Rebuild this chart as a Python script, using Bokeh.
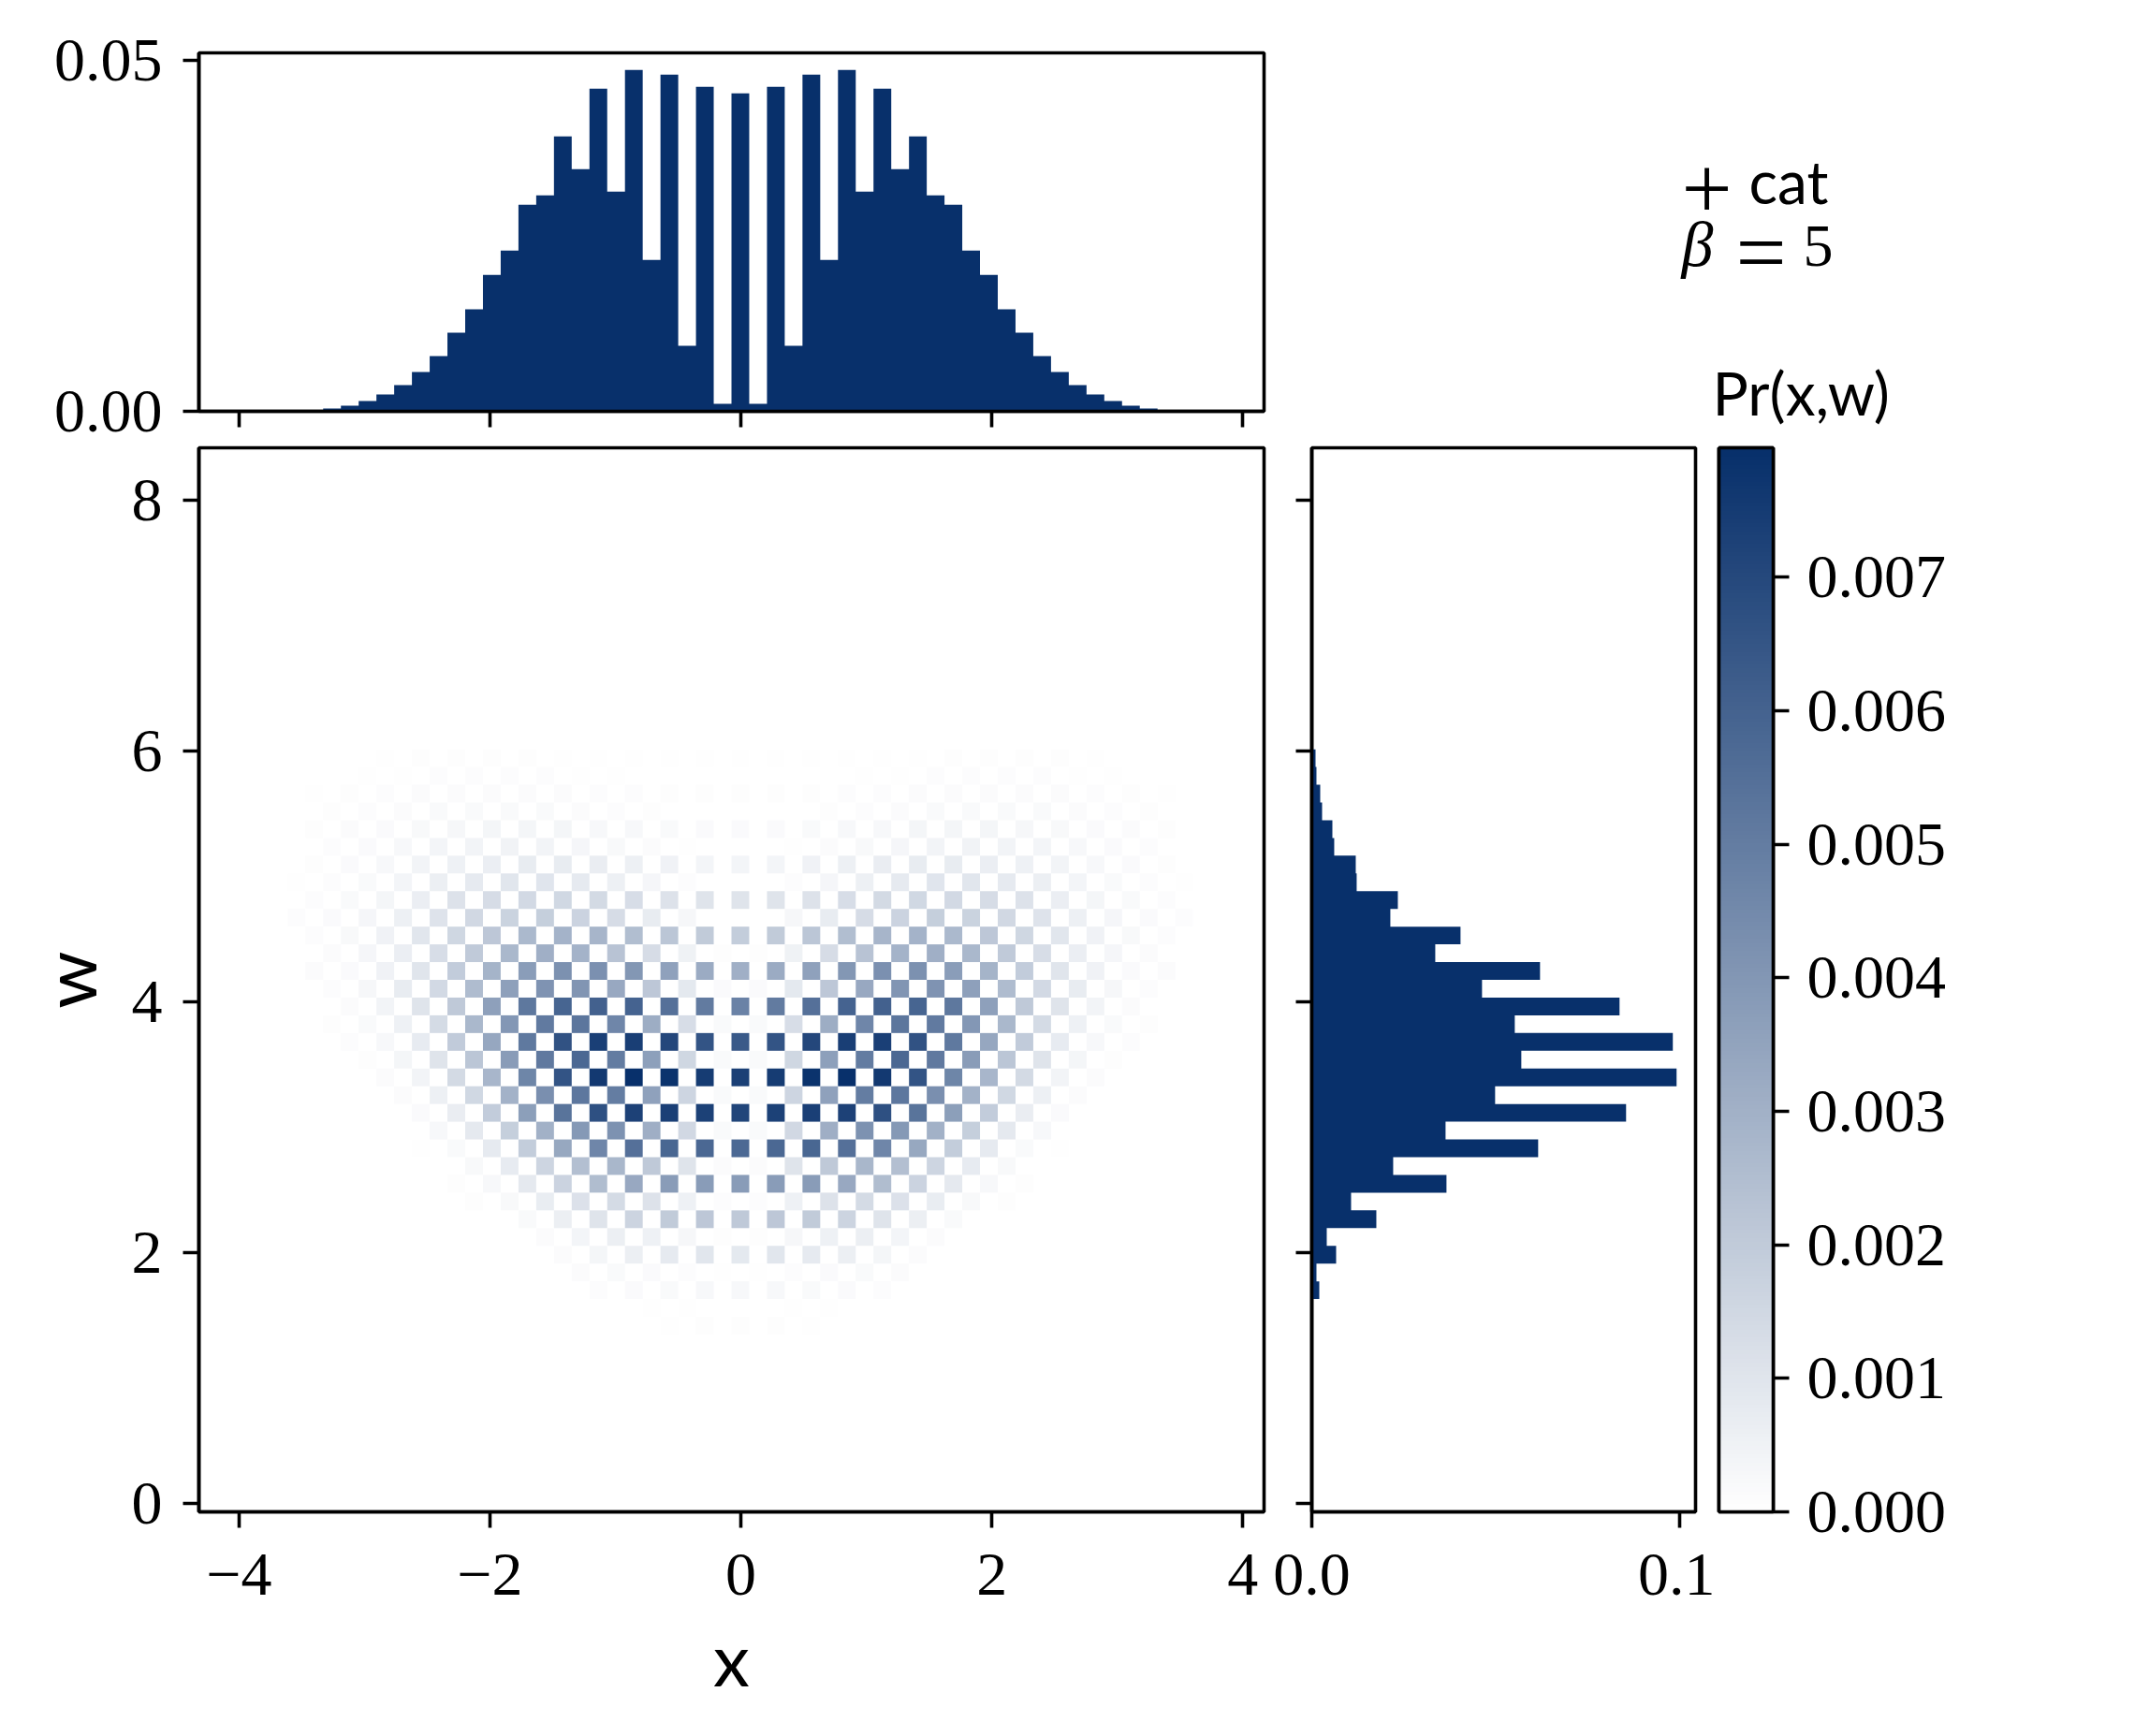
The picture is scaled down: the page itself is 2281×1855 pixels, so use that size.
import numpy as np
from bokeh.core.properties import value
from bokeh.embed import file_html
from bokeh.layouts import column, row
from bokeh.models import ColumnDataSource, FixedTicker, LinearAxis, LinearColorMapper, Range1d
from bokeh.plotting import figure
from bokeh.resources import INLINE

# binning of the joint histogram
n_bins = 60
x_min, x_max = -4.32, 4.17
w_min, w_max = -0.07, 8.42
bin_w = (x_max - x_min) / n_bins
pr_max = 0.00797

# marginal Pr(x), bins k = -23 .. 0, mirrored for k > 0
top_k_first = -23
top_left = [0.0004, 0.0008, 0.00146, 0.0024, 0.00373, 0.00559, 0.00785, 0.01118, 0.0145, 0.01942,
            0.02288, 0.0294, 0.03073, 0.03911, 0.03446, 0.0459, 0.03127, 0.04856, 0.02155, 0.0479,
            0.00931, 0.04617, 0.00106]
top_center = 0.04523

# marginal Pr(w), bins i = 12 .. 42
right_i_first = 12
right_values = [0.00204, 0.00127, 0.00662, 0.00407, 0.01756, 0.01069, 0.03664, 0.02214, 0.06158, 0.03639,
                0.0855, 0.04987, 0.09924, 0.057, 0.09822, 0.05522, 0.08372, 0.04631, 0.06209, 0.03359,
                0.04046, 0.02137, 0.02341, 0.01221, 0.01196, 0.0061, 0.0056, 0.0028, 0.00229, 0.00127,
                0.00102]

# joint Pr(x,w): one list per w bin, counted in steps of pr_max / 247.
# Even rows hold k = 0, 2, 4 ...; odd rows hold k = 1, 3, 5 ...; mirrored for k < 0
row_42 = [1, 1, 1, 1, 1, 1, 2, 2, 2, 2, 1]
row_41 = [0, 0, 0, 1, 1, 3, 3, 3, 3, 1, 1]
row_40 = [2, 2, 2, 3, 3, 4, 4, 4, 4, 4, 3, 2, 1]
row_39 = [0, 0, 2, 3, 4, 6, 6, 6, 6, 4, 3, 2]
row_38 = [5, 5, 6, 8, 8, 11, 11, 11, 9, 7, 5, 4, 2]
row_37 = [0, 1, 4, 7, 10, 13, 14, 13, 12, 8, 5, 3]
row_36 = [12, 12, 15, 18, 21, 23, 23, 20, 17, 13, 8, 5, 2]
row_35 = [0, 3, 10, 18, 25, 30, 29, 25, 19, 12, 6, 3, 1]
row_34 = [32, 32, 34, 40, 44, 47, 45, 41, 34, 20, 11, 6, 3]
row_33 = [0, 9, 23, 41, 52, 57, 53, 46, 33, 18, 10, 5, 3]
row_32 = [59, 62, 68, 78, 87, 90, 83, 66, 48, 29, 15, 7, 3]
row_31 = [2, 16, 41, 71, 90, 95, 84, 63, 40, 20, 10, 4]
row_30 = [95, 100, 111, 124, 132, 131, 116, 89, 60, 31, 15, 5, 4]
row_29 = [5, 27, 66, 103, 126, 128, 112, 80, 45, 23, 9, 3]
row_28 = [148, 157, 169, 185, 188, 183, 161, 112, 64, 32, 13, 4]
row_27 = [6, 40, 98, 143, 163, 158, 123, 84, 43, 17, 6, 2]
row_26 = [196, 203, 219, 229, 228, 205, 160, 105, 61, 24, 8, 3]
row_25 = [6, 48, 113, 156, 179, 159, 117, 68, 32, 11, 2]
row_24 = [227, 232, 243, 247, 235, 203, 144, 86, 44, 13, 4]
row_23 = [6, 50, 111, 154, 162, 133, 91, 47, 18, 4]
row_22 = [221, 226, 228, 225, 208, 165, 114, 60, 21, 5]
row_21 = [6, 46, 96, 130, 121, 93, 57, 26, 8]
row_20 = [178, 179, 181, 169, 143, 104, 59, 25, 6, 1]
row_19 = [4, 32, 64, 85, 76, 50, 24, 7]
row_18 = [117, 117, 117, 103, 79, 52, 26, 8, 2]
row_17 = [3, 17, 34, 43, 35, 22, 7, 2]
row_16 = [64, 66, 62, 51, 32, 19, 6]
row_15 = [2, 9, 17, 19, 12, 4]
row_14 = [27, 29, 25, 19, 11, 4]
row_13 = [1, 3, 5, 6, 4]
row_12 = [8, 8, 6, 5, 3]
row_11 = [0, 1, 1]
row_10 = [2, 2, 1]
joint_rows = {42: row_42, 41: row_41, 40: row_40, 39: row_39, 38: row_38, 37: row_37, 36: row_36,
              35: row_35, 34: row_34, 33: row_33, 32: row_32, 31: row_31, 30: row_30, 29: row_29,
              28: row_28, 27: row_27, 26: row_26, 25: row_25, 24: row_24, 23: row_23, 22: row_22,
              21: row_21, 20: row_20, 19: row_19, 18: row_18, 17: row_17, 16: row_16, 15: row_15,
              14: row_14, 13: row_13, 12: row_12, 11: row_11, 10: row_10}

# ticks
x_ticks = [-4, -2, 0, 2, 4]
x_labels = {-4: "\u22124", -2: "\u22122", 0: "0", 2: "2", 4: "4"}
w_ticks = [0, 2, 4, 6, 8]
w_labels = {0: "0", 2: "2", 4: "4", 6: "6", 8: "8"}
top_ticks = [0, 0.05]
top_labels = {0: "0.00", 0.05: "0.05"}
right_ticks = [0, 0.1]
right_labels = {0: "0.0", 0.1: "0.1"}
cb_ticks = [0, 0.001, 0.002, 0.003, 0.004, 0.005, 0.006, 0.007]
cb_labels = {t: f"{t:.3f}" for t in cb_ticks}

NAVY = "#08306b"
SERIF = "Liberation Serif"
SANS = "Lato"
TICK_SIZE = "66px"
LABEL_SIZE = "78px"
LW = 3.6

palette = [f"#{int(255 + (8 - 255) * t):02x}{int(255 + (48 - 255) * t):02x}{int(255 + (107 - 255) * t):02x}"
           for t in np.linspace(0, 1, 256)]
mapper = LinearColorMapper(palette=palette, low=0, high=pr_max)


def style_axis(ax, standoff=22):
    ax.axis_line_width = LW
    ax.major_tick_line_width = LW
    ax.major_tick_in = 0
    ax.major_tick_out = 17
    ax.minor_tick_line_color = None
    ax.major_label_text_font = SERIF
    ax.major_label_text_font_size = TICK_SIZE
    ax.major_label_text_color = "black"
    ax.major_label_standoff = standoff


def make_fig(x_range, y_range, w, h, left=4, right=4, top=4, bottom=4, **kw):
    f = figure(x_range=x_range, y_range=y_range, frame_width=w, frame_height=h, min_border_left=left,
               min_border_right=right, min_border_top=top, min_border_bottom=bottom,
               toolbar_location=None, output_backend="svg", **kw)
    f.grid.visible = False
    f.outline_line_color = "black"
    f.outline_line_width = LW
    f.outline_line_alpha = 1
    for ax in f.axis:
        style_axis(ax)
    return f


def set_ticks(ax, ticks, labels=None):
    ax.ticker = FixedTicker(ticks=ticks)
    ax.major_label_overrides = labels if labels is not None else {t: "" for t in ticks}


# top marginal
top_values = top_left + [top_center] + top_left[::-1] + [0]
top_edges = [x_min + (k + n_bins // 2 + top_k_first) * bin_w for k in range(len(top_values))]
top = make_fig(Range1d(x_min, x_max), Range1d(0, 0.051), 1138, 383, left=212, top=56, bottom=35)
top.varea_step(x=top_edges, y1=[0] * len(top_values), y2=top_values, step_mode="after", fill_color=NAVY)
set_ticks(top.xaxis[0], x_ticks)
set_ticks(top.yaxis[0], top_ticks, top_labels)

# texts beside the top panel, on a blank figure counted in picture pixels
note = figure(x_range=Range1d(1354, 2268), y_range=Range1d(474, 0), width=914, height=474,
              min_border_left=0, min_border_right=0, min_border_top=0, min_border_bottom=0,
              toolbar_location=None, output_backend="svg", outline_line_color=None,
              x_axis_location=None, y_axis_location=None)
note.grid.visible = False
note_texts = ["+", "cat", "\u03b2", "=", "5", "Pr(x,w)"]
note_x = [1796, 1868, 1796, 1854, 1926, 1829]
note_y = [201, 193, 260, 269, 262, 419]
note_fonts = [SERIF, SANS, SERIF, SERIF, SERIF, SANS]
note_sizes = ["96px", "64px", "68px", "96px", "64px", "64px"]
note_styles = ["normal", "normal", "italic", "normal", "normal", "normal"]
for txt, nx, ny, font, size, style in zip(note_texts, note_x, note_y, note_fonts, note_sizes, note_styles):
    note.text(x=[nx], y=[ny], text=[txt], text_font=value(font), text_font_size=value(size),
              text_font_style=style, text_color="black", text_baseline="alphabetic", text_align="left")

# joint histogram
cell_left, cell_right, cell_bottom, cell_top, cell_value = [], [], [], [], []
for i, cells in joint_rows.items():
    first = i % 2
    for n, level in enumerate(cells):
        if level == 0:
            continue
        k = first + 2 * n
        for kk in {k, -k}:
            cell_left.append(x_min + (kk + n_bins // 2) * bin_w)
            cell_right.append(x_min + (kk + n_bins // 2 + 1) * bin_w)
            cell_bottom.append(w_min + i * bin_w)
            cell_top.append(w_min + (i + 1) * bin_w)
            cell_value.append(level * pr_max / 247)
cells_src = ColumnDataSource(dict(left=cell_left, right=cell_right, bottom=cell_bottom, top=cell_top,
                                  value=cell_value))
main = make_fig(Range1d(x_min, x_max), Range1d(w_min, w_max), 1138, 1137, left=212, bottom=224)
main.quad(left="left", right="right", bottom="bottom", top="top", source=cells_src,
          fill_color={"field": "value", "transform": mapper}, line_color=None)
set_ticks(main.xaxis[0], x_ticks, x_labels)
set_ticks(main.yaxis[0], w_ticks, w_labels)
main.xaxis.major_label_standoff = 28
main.xaxis.axis_label = "x"
main.yaxis.axis_label = "w"
for ax in main.axis:
    ax.axis_label_text_font = SANS
    ax.axis_label_text_font_size = LABEL_SIZE
    ax.axis_label_text_font_style = "normal"
    ax.axis_label_text_color = "black"
    ax.axis_label_standoff = 18

# right marginal
right_edges = [w_min + (right_i_first + n) * bin_w for n in range(len(right_values) + 1)]
side = make_fig(Range1d(0, 0.1044), Range1d(w_min, w_max), 410, 1137, left=47, right=21, bottom=224)
side.harea_step(y=right_edges, x1=[0] * len(right_edges), x2=right_values + [0], step_mode="after",
                fill_color=NAVY)
set_ticks(side.xaxis[0], right_ticks, right_labels)
set_ticks(side.yaxis[0], w_ticks)
side.xaxis.major_label_standoff = 28

# colour bar, the frame drawn by axes so it stays above the image
cb = make_fig(Range1d(0, 1), Range1d(0, pr_max), 58, 1137, right=370, bottom=224, y_axis_location="right")
cb.image(image=[np.linspace(0, pr_max, 256).reshape(-1, 1)], x=0, y=0, dw=1, dh=pr_max, color_mapper=mapper)
set_ticks(cb.yaxis[0], cb_ticks, cb_labels)
cb.yaxis.major_label_standoff = 19
cb.xaxis.ticker = FixedTicker(ticks=[])
for side_name in ["left", "above"]:
    edge = LinearAxis(ticker=FixedTicker(ticks=[]))
    style_axis(edge)
    cb.add_layout(edge, side_name)

layout = row(column(top, main, spacing=0), column(note, row(side, cb, spacing=0), spacing=0), spacing=0)
open("out.html", "w").write(file_html(layout, INLINE))
